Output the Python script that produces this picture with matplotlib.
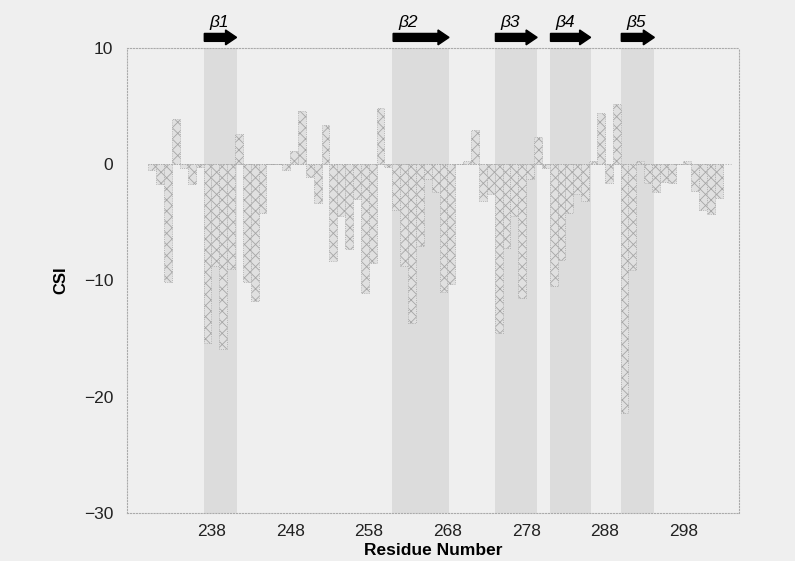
import numpy as np
import matplotlib
matplotlib.use("Agg")
import matplotlib.pyplot as plt
from matplotlib.patches import FancyArrow
from matplotlib.transforms import blended_transform_factory

plt.rcParams['font.family'] = ['Liberation Sans', 'DejaVu Sans']
plt.rcParams['hatch.linewidth'] = 0.6

# residue numbers and chemical shift index values
residues = np.arange(230, 303)
csi = [-0.5, -1.7, -10.1, 3.9, -0.3, -1.7, -0.2, -15.4, -8.8, -15.9,
       -9.0, 2.6, -10.1, -11.8, -4.2, 0.0, 0.0, -0.5, 1.1, 4.6,
       -1.1, -3.3, 3.4, -8.3, -4.5, -7.3, -3.0, -11.1, -8.5, 4.8,
       -0.2, -3.9, -8.8, -13.7, -7.0, -1.3, -2.4, -11.0, -10.3, 0.0,
       0.3, 2.9, -3.2, -2.6, -14.5, -7.2, -4.5, -11.5, -1.3, 2.3,
       -0.3, -10.5, -8.2, -4.2, -2.6, -3.2, 0.3, 4.4, -1.6, 5.2,
       -21.4, -9.1, 0.3, -1.6, -2.4, -1.5, -1.6, 0.0, 0.3, -2.3,
       -3.9, -4.3, -2.9]

# beta strands (start, end residue)
strand_names = ["β1", "β2", "β3", "β4", "β5"]
strand_start = [237, 261, 274, 281, 290]
strand_end = [241.2, 268.2, 279.4, 286.2, 294.3]

xticks = [238, 248, 258, 268, 278, 288, 298]
yticks = [10, 0, -10, -20, -30]

bg = "#efefef"
fig = plt.figure(figsize=(7.95, 5.61), dpi=100, facecolor=bg)
ax = fig.add_axes([0.160, 0.0856, 0.769, 0.829], facecolor=bg)

for s, e in zip(strand_start, strand_end):
    ax.axvspan(s, e, color="#dcdcdc", lw=0, zorder=0)

ax.bar(residues, csi, width=1.0, align="edge", facecolor="#e0e0e0",
       edgecolor="#a6a6a6", hatch="xxx", linewidth=0.6, linestyle=":",
       zorder=2)
ax.plot([230, 304], [0, 0], color="#a8a8a8", lw=0.7, ls=":", zorder=3)

ax.set_xlim(227.3, 305.0)
ax.set_ylim(-30, 10)
ax.set_xticks(xticks)
ax.set_yticks(yticks)
ax.set_yticklabels(["10", "0", "\u221210", "\u221220", "\u221230"])
ax.tick_params(length=0, labelsize=12.5, pad=8, colors="#222222")
ax.tick_params(axis="y", pad=10)

for sp in ax.spines.values():
    sp.set_linestyle(":")
    sp.set_color("#aaaaaa")
    sp.set_linewidth(0.8)

ax.set_xlabel("Residue Number", fontsize=12.5, fontweight="bold", labelpad=3)
ax.set_ylabel("CSI", fontsize=12, fontweight="bold", labelpad=11)

trans = blended_transform_factory(ax.transData, ax.transAxes)
for name, s, e in zip(strand_names, strand_start, strand_end):
    arr = FancyArrow(s + 0.1, 1.0226, (e - s) - 0.1, 0, width=0.017,
                     head_width=0.032, head_length=1.4,
                     length_includes_head=True, color="black",
                     transform=trans, clip_on=False, zorder=5)
    ax.add_patch(arr)
    ax.text(s + 2.0, 1.038, name, transform=trans, ha="center",
            va="bottom", fontsize=12.5, fontstyle="italic")

fig.savefig("out.png", dpi=100, facecolor=bg)
